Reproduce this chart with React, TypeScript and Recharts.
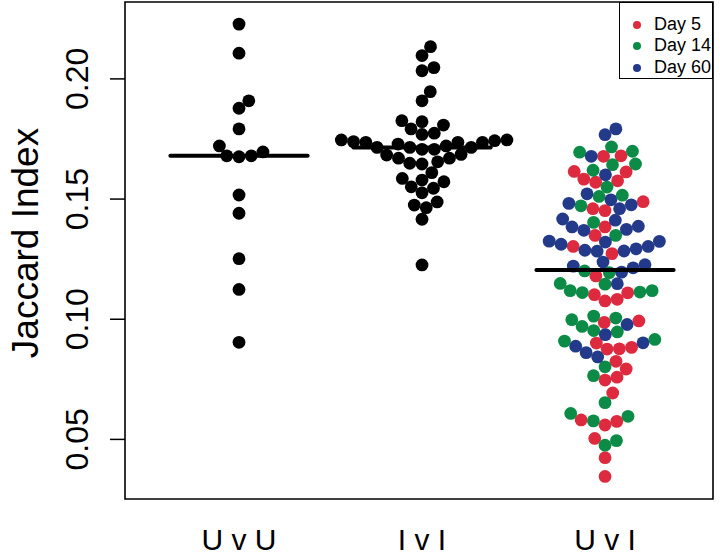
import React from 'react';
import { ScatterChart, Scatter, XAxis, YAxis, ReferenceArea, Legend } from 'recharts';

// ---------- data ----------
const groupLabels = ['U v U', 'I v I', 'U v I'];
const groupPositions = [1, 2, 3];
const yTicks = [0.05, 0.1, 0.15, 0.2];

const uvuValues = [
  0.2228, 0.2107, 0.1909, 0.1878, 0.1792, 0.1721, 0.168, 0.1676, 0.168, 0.1696,
  0.1517, 0.1441, 0.1252, 0.1124, 0.0904,
];

const iviValues = [
  0.2134, 0.2097, 0.2034, 0.2047, 0.1947, 0.1909, 0.1826, 0.1822, 0.1792, 0.1808,
  0.1769, 0.1774, 0.1743, 0.1736, 0.1715, 0.1736, 0.1736, 0.1715, 0.1707, 0.1707,
  0.1729, 0.1746, 0.1715, 0.1721, 0.1739, 0.1746, 0.1686, 0.167, 0.1655, 0.1646,
  0.1649, 0.167, 0.1683, 0.161, 0.1579, 0.1586, 0.1572, 0.1551, 0.1526, 0.1545,
  0.1475, 0.1464, 0.1488, 0.1416, 0.1226,
];

const uviDay5 = [
  0.1678, 0.168, 0.1615, 0.1613, 0.1583, 0.157, 0.1576, 0.1489, 0.146, 0.1452,
  0.1384, 0.1349, 0.1303, 0.1273, 0.118, 0.111, 0.1102, 0.1076, 0.1083, 0.0993,
  0.0987, 0.0883, 0.0876, 0.0877, 0.0901, 0.0825, 0.0793, 0.0747, 0.0759, 0.0693,
  0.0581, 0.056, 0.0575, 0.0504, 0.0424, 0.0346,
];
const uviDay14 = [
  0.1717, 0.1695, 0.1699, 0.1643, 0.1646, 0.162, 0.155, 0.1511, 0.1516, 0.1472,
  0.1403, 0.1349, 0.1201, 0.1194, 0.1119, 0.1146, 0.1149, 0.1111, 0.1113, 0.1119,
  0.1013, 0.097, 0.1005, 0.0947, 0.0953, 0.0998, 0.0916, 0.0909, 0.0802, 0.0765,
  0.0653, 0.0608, 0.0577, 0.0596, 0.0495, 0.0476,
];
const uviDay60 = [
  0.1768, 0.1792, 0.1678, 0.1601, 0.1522, 0.1497, 0.1476, 0.146, 0.1482, 0.1417,
  0.1412, 0.1387, 0.1374, 0.1321, 0.137, 0.1384, 0.1325, 0.1312, 0.1287, 0.1283,
  0.1284, 0.1293, 0.1303, 0.1324, 0.1238, 0.1221, 0.1196, 0.1214, 0.1227, 0.1148,
  0.0936, 0.0978, 0.0902, 0.0861, 0.0888, 0.0843,
];

const groupMedians = [0.168, 0.1715, 0.1205];

const dayNames = ['Day 5', 'Day 14', 'Day 60'];
const dayColors = ['#DE2A3E', '#0C8B47', '#233A8B'];

// ---------- layout ----------
const WIDTH = 720;
const HEIGHT = 557;
const MARGIN = { top: 2, right: 7, bottom: 0, left: 0 };
const Y_AXIS_W = 125;
const X_AXIS_H = 58;
const X_MIN = 0.377;
const X_MAX = 3.59;
const Y_MIN = 0.0252;
const Y_MAX = 0.232;
const PLOT_W = WIDTH - MARGIN.left - MARGIN.right - Y_AXIS_W;
const PLOT_H = HEIGHT - MARGIN.top - MARGIN.bottom - X_AXIS_H;
const PX_PER_X = PLOT_W / (X_MAX - X_MIN);
const PX_PER_Y = PLOT_H / (Y_MAX - Y_MIN);
const SWARM_PX = 12.3; // collision diameter
const DOT_R = 6.4;
const MEDIAN_HALF = 0.375;
const FONT = '"Liberation Sans", Arial, Helvetica, sans-serif';

// beeswarm "swarm" layout (ascending priority), as in R's beeswarm
function swarmOffsets(values: number[]): number[] {
  const dsize = SWARM_PX / PX_PER_Y;
  const gsize = SWARM_PX / PX_PER_X;
  const idx = values.map((_, i) => i).sort((a, b) => values[a] - values[b] || a - b);
  const placed: { v: number; o: number }[] = [];
  const out = new Array(values.length).fill(0);
  for (const i of idx) {
    const xi = values[i] / dsize;
    const pre = placed.filter((p) => Math.abs(xi - p.v) < 1);
    let best = 0;
    if (pre.length) {
      const offs = pre.map((p) => Math.sqrt(1 - (xi - p.v) ** 2));
      const cands = [0, ...pre.map((p, k) => p.o + offs[k]), ...pre.map((p, k) => p.o - offs[k])];
      let bestAbs = Infinity;
      for (const c of cands) {
        const bad = pre.some((p) => (xi - p.v) ** 2 + (c - p.o) ** 2 < 0.999);
        if (!bad && Math.abs(c) < bestAbs) {
          bestAbs = Math.abs(c);
          best = c;
        }
      }
    }
    placed.push({ v: xi, o: best });
    out[i] = best * gsize;
  }
  return out;
}

function toPoints(values: number[], center: number) {
  const offs = swarmOffsets(values);
  return values.map((v, i) => ({ x: center + offs[i], y: v }));
}

const uvuPoints = toPoints(uvuValues, groupPositions[0]);
const iviPoints = toPoints(iviValues, groupPositions[1]);

const uviAll = [...uviDay5, ...uviDay14, ...uviDay60];
const uviOffsets = swarmOffsets(uviAll);
const uviByDay = [uviDay5, uviDay14, uviDay60].map((arr, d) => {
  const start = d === 0 ? 0 : d === 1 ? uviDay5.length : uviDay5.length + uviDay14.length;
  return arr.map((v, i) => ({ x: groupPositions[2] + uviOffsets[start + i], y: v }));
});

const medianSegments = groupMedians.map((m, i) => [
  { x: groupPositions[i] - MEDIAN_HALF, y: m },
  { x: groupPositions[i] + MEDIAN_HALF, y: m },
]);

const dot = (color: string) => (props: any) => (
  <circle cx={props.cx} cy={props.cy} r={DOT_R} fill={color} />
);
const noShape = () => <g />;

const YTick = (props: any) => {
  const { x, y, payload } = props;
  const cx = x - 31;
  return (
    <text
      x={cx}
      y={y}
      transform={`rotate(-90, ${cx}, ${y})`}
      textAnchor="middle"
      dominantBaseline="central"
      fontSize={32}
      fontFamily={FONT}
      fill="#000"
    >
      {Number(payload.value).toFixed(2)}
    </text>
  );
};

const XTick = (props: any) => {
  const { x, y, payload } = props;
  const idx = groupPositions.indexOf(payload.value);
  return (
    <text x={x} y={y + 51} textAnchor="middle" fontSize={30} fontFamily={FONT} fill="#000">
      {groupLabels[idx]}
    </text>
  );
};

const LegendBox = () => (
  <div
    style={{
      boxSizing: 'border-box',
      width: 94,
      height: 77,
      border: '1.5px solid #000',
      background: '#fff',
      paddingTop: 10.5,
      fontFamily: FONT,
    }}
  >
    {dayNames.map((n, i) => (
      <div key={n} style={{ height: 21.8, display: 'flex', alignItems: 'center' }}>
        <svg width={34} height={21.8} style={{ display: 'block' }}>
          <circle cx={17} cy={10.9} r={4} fill={dayColors[i]} />
        </svg>
        <span style={{ fontSize: 18, lineHeight: '21.8px', color: '#000' }}>{n}</span>
      </div>
    ))}
  </div>
);

export default function App() {
  return (
    <div
      style={{
        position: 'absolute',
        left: 0,
        top: 0,
        width: WIDTH,
        height: HEIGHT,
        background: '#fff',
        fontFamily: FONT,
      }}
    >
      <ScatterChart width={WIDTH} height={HEIGHT} margin={MARGIN}>
        <XAxis
          type="number"
          dataKey="x"
          domain={[X_MIN, X_MAX]}
          ticks={groupPositions}
          allowDataOverflow
          axisLine={false}
          tickLine={false}
          tickSize={0}
          tickMargin={0}
          height={X_AXIS_H}
          tick={<XTick />}
          interval={0}
        />
        <YAxis
          type="number"
          dataKey="y"
          domain={[Y_MIN, Y_MAX]}
          ticks={yTicks}
          allowDataOverflow
          axisLine={false}
          tickLine={{ stroke: '#000', strokeWidth: 1.5 }}
          tickSize={15}
          width={Y_AXIS_W}
          tick={<YTick />}
          interval={0}
          label={{
            content: () => (
              <text
                x={25}
                y={243}
                transform="rotate(-90, 25, 243)"
                textAnchor="middle"
                dominantBaseline="central"
                fontSize={37}
                fontFamily={FONT}
                fill="#000"
              >
                Jaccard Index
              </text>
            ),
          }}
        />
        <ReferenceArea
          x1={X_MIN}
          x2={X_MAX}
          y1={Y_MIN}
          y2={Y_MAX}
          fill="none"
          stroke="#000"
          strokeWidth={1.6}
          ifOverflow="visible"
        />
        <Scatter data={uvuPoints} shape={dot('#000')} isAnimationActive={false} />
        <Scatter data={iviPoints} shape={dot('#000')} isAnimationActive={false} />
        {uviByDay.map((pts, d) => (
          <Scatter
            key={dayNames[d]}
            name={dayNames[d]}
            data={pts}
            shape={dot(dayColors[d])}
            isAnimationActive={false}
          />
        ))}
        {medianSegments.map((seg, i) => (
          <Scatter
            key={'m' + i}
            data={seg}
            line={{ stroke: '#000', strokeWidth: 4, strokeLinecap: 'round' }}
            shape={noShape}
            isAnimationActive={false}
          />
        ))}
        <Legend
          layout="vertical"
          align="center"
          verticalAlign="middle"
          content={<LegendBox />}
          wrapperStyle={{ position: 'absolute', left: 619, top: 2, width: 94, height: 77 }}
        />
      </ScatterChart>
    </div>
  );
}
